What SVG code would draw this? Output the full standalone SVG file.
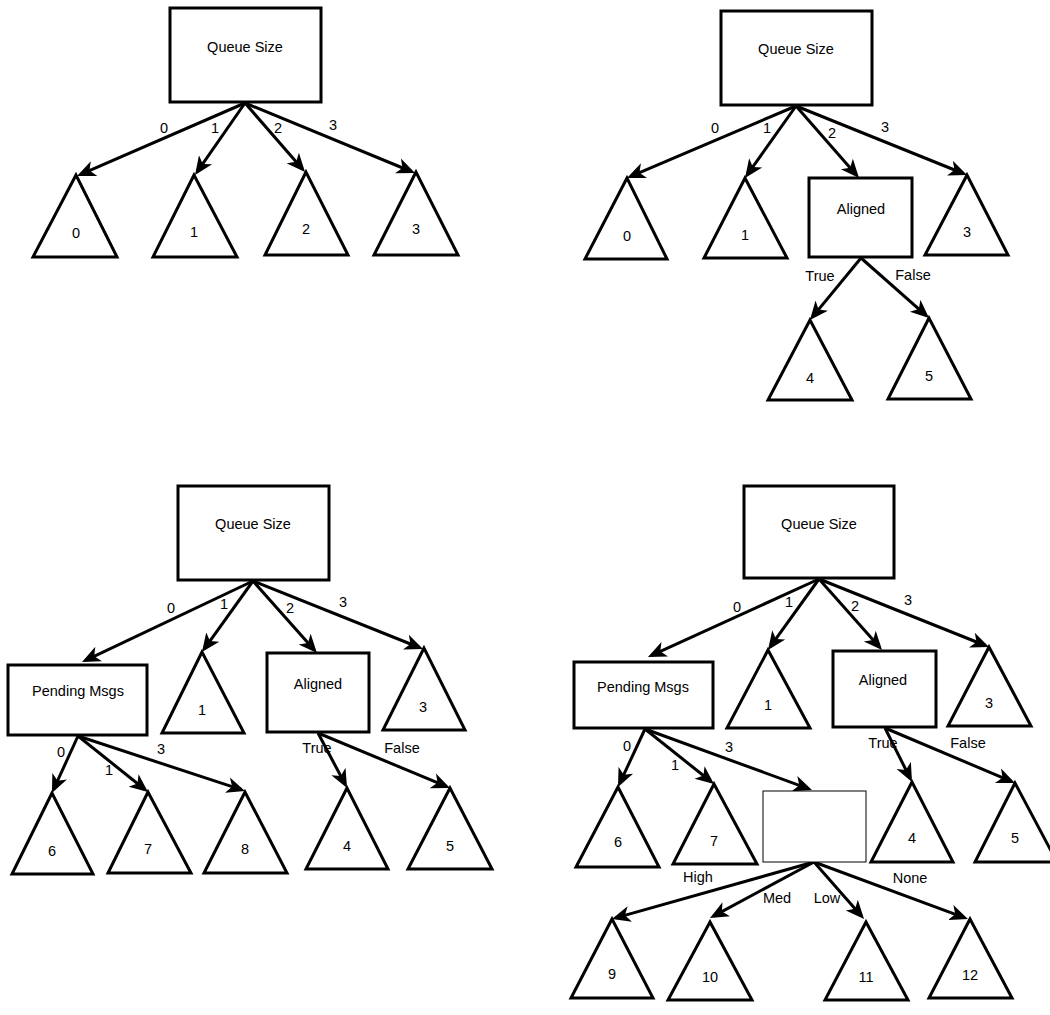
<svg xmlns="http://www.w3.org/2000/svg" width="1050" height="1015" viewBox="0 0 1050 1015">
<style>
.box{fill:#fff;stroke:#000;stroke-width:3}
.thin{fill:#fff;stroke:#000;stroke-width:1}
.tri{fill:#fff;stroke:#000;stroke-width:3;stroke-linejoin:miter}
.e{fill:none;stroke:#000;stroke-width:3;marker-end:url(#ah)}
text{font-family:"Liberation Sans",Arial,sans-serif;font-size:14.5px;fill:#000;text-anchor:middle}
</style>
<defs>
<marker id="ah" markerUnits="userSpaceOnUse" markerWidth="19" markerHeight="18" viewBox="0 0 19 18" refX="14.5" refY="9" orient="auto">
<path d="M0,1 L18.5,9 L0,17 L5,9 Z" fill="#000"/>
</marker>
</defs>
<rect width="1050" height="1015" fill="#fff"/>
<g id="connectors">
<path class="e" d="M245,103 L80.7,174.4"/>
<path class="e" d="M245,103 L197.3,171.7"/>
<path class="e" d="M245,103 L302.4,169"/>
<path class="e" d="M245,103 L411.3,171.5"/>
<path class="e" d="M796,106 L630.7,176.4"/>
<path class="e" d="M796,106 L747.3,174.7"/>
<path class="e" d="M796,106 L856.4,175"/>
<path class="e" d="M796,106 L963.3,173.5"/>
<path class="e" d="M861,258 L812.5,316.9"/>
<path class="e" d="M861,258 L926,315.3"/>
<path class="e" d="M253,581 L85.6,660.3"/>
<path class="e" d="M253,581 L204.3,648.8"/>
<path class="e" d="M253,581 L314.3,650"/>
<path class="e" d="M253,581 L419.3,647.5"/>
<path class="e" d="M78,736 L53.6,789.4"/>
<path class="e" d="M78,736 L144.9,789.5"/>
<path class="e" d="M78,736 L241.2,789.7"/>
<path class="e" d="M318,733 L345.2,784.4"/>
<path class="e" d="M318,733 L446.3,786.4"/>
<path class="e" d="M819,579 L651.6,655.3"/>
<path class="e" d="M819,579 L770.3,646.7"/>
<path class="e" d="M819,579 L879.4,647"/>
<path class="e" d="M819,579 L985.3,645.5"/>
<path class="e" d="M645,729 L619.7,783.4"/>
<path class="e" d="M645,729 L710.9,781.5"/>
<path class="e" d="M645,729 L808.2,788.6"/>
<path class="e" d="M885,728 L910.2,778.4"/>
<path class="e" d="M885,728 L1011.3,781.4"/>
<path class="e" d="M814,862 L615.8,917.9"/>
<path class="e" d="M814,862 L713.5,916.1"/>
<path class="e" d="M814,862 L861.4,916"/>
<path class="e" d="M814,862 L964.2,917.6"/>
</g>
<g id="edge-labels">
<text x="164" y="133">0</text><text x="215" y="133">1</text><text x="278" y="133">2</text><text x="333" y="130">3</text>
<text x="715" y="133">0</text><text x="767" y="133">1</text><text x="832" y="138">2</text><text x="885" y="132">3</text>
<text x="820" y="281">True</text><text x="913" y="280">False</text>
<text x="171" y="613">0</text><text x="224" y="609">1</text><text x="290" y="613">2</text><text x="343" y="607">3</text>
<text x="61" y="757">0</text><text x="109" y="775">1</text><text x="161" y="754">3</text>
<text x="317" y="753">True</text><text x="402" y="753">False</text>
<text x="737" y="612">0</text><text x="789" y="607">1</text><text x="855" y="611">2</text><text x="908" y="605">3</text>
<text x="627" y="751">0</text><text x="675" y="770">1</text><text x="729" y="752">3</text>
<text x="883" y="748">True</text><text x="968" y="748">False</text>
<text x="698" y="882">High</text><text x="777" y="903">Med</text><text x="827" y="903">Low</text><text x="910" y="883">None</text>
</g>
<!-- Tree 1 -->
<g id="t1-queue"><rect class="box" x="170" y="8" width="151" height="94"/><text x="245" y="52">Queue Size</text></g>
<g id="t1-leaf0"><polygon class="tri" points="76,175 33,257 117,257"/><text x="76" y="238">0</text></g>
<g id="t1-leaf1"><polygon class="tri" points="194,175 153,257 237,257"/><text x="194" y="237">1</text></g>
<g id="t1-leaf2"><polygon class="tri" points="306,172 265,255 348,255"/><text x="306" y="234">2</text></g>
<g id="t1-leaf3"><polygon class="tri" points="416,172 374,255 458,255"/><text x="416" y="234">3</text></g>
<!-- Tree 2 -->
<g id="t2-queue"><rect class="box" x="721" y="11" width="151" height="94"/><text x="796" y="54">Queue Size</text></g>
<g id="t2-leaf0"><polygon class="tri" points="627,178 585,259 667,259"/><text x="627" y="241">0</text></g>
<g id="t2-leaf1"><polygon class="tri" points="745,178 704,258 787,258"/><text x="745" y="240">1</text></g>
<g id="t2-aligned"><rect class="box" x="809" y="178" width="103" height="79"/><text x="861" y="214">Aligned</text></g>
<g id="t2-leaf3"><polygon class="tri" points="967,175 925,255 1008,255"/><text x="967" y="237">3</text></g>
<g id="t2-leaf4"><polygon class="tri" points="810,320 768,400 852,400"/><text x="810" y="383">4</text></g>
<g id="t2-leaf5"><polygon class="tri" points="929,318 888,399 971,399"/><text x="929" y="381">5</text></g>
<!-- Tree 3 -->
<g id="t3-queue"><rect class="box" x="178" y="486" width="151" height="94"/><text x="253" y="529">Queue Size</text></g>
<g id="t3-pending"><rect class="box" x="8" y="665" width="139" height="70"/><text x="78" y="696">Pending Msgs</text></g>
<g id="t3-leaf1"><polygon class="tri" points="202,652 162,733 244,733"/><text x="202" y="715">1</text></g>
<g id="t3-aligned"><rect class="box" x="267" y="653" width="102" height="79"/><text x="318" y="689">Aligned</text></g>
<g id="t3-leaf3"><polygon class="tri" points="424,648 383,730 465,730"/><text x="423" y="712">3</text></g>
<g id="t3-leaf6"><polygon class="tri" points="52,793 12,874 93,874"/><text x="52" y="856">6</text></g>
<g id="t3-leaf7"><polygon class="tri" points="148,792 108,873 191,873"/><text x="148" y="854">7</text></g>
<g id="t3-leaf8"><polygon class="tri" points="245,792 204,873 287,873"/><text x="245" y="854">8</text></g>
<g id="t3-leaf4"><polygon class="tri" points="347,788 306,869 388,869"/><text x="347" y="851">4</text></g>
<g id="t3-leaf5"><polygon class="tri" points="450,788 408,869 492,869"/><text x="450" y="851">5</text></g>
<!-- Tree 4 -->
<g id="t4-queue"><rect class="box" x="744" y="486" width="150" height="92"/><text x="819" y="529">Queue Size</text></g>
<g id="t4-pending"><rect class="box" x="574" y="662" width="139" height="66"/><text x="643" y="692">Pending Msgs</text></g>
<g id="t4-leaf1"><polygon class="tri" points="768,650 727,728 810,728"/><text x="768" y="710">1</text></g>
<g id="t4-aligned"><rect class="box" x="833" y="651" width="103" height="76"/><text x="883" y="685">Aligned</text></g>
<g id="t4-leaf3"><polygon class="tri" points="989,647 948,726 1031,726"/><text x="989" y="708">3</text></g>
<g id="t4-leaf6"><polygon class="tri" points="618,787 576,867 659,867"/><text x="618" y="847">6</text></g>
<g id="t4-leaf7"><polygon class="tri" points="714,784 673,864 757,864"/><text x="714" y="846">7</text></g>
<g id="t4-empty"><rect class="thin" x="763" y="791" width="103" height="71"/></g>
<g id="t4-leaf4"><polygon class="tri" points="912,782 871,862 953,862"/><text x="912" y="843">4</text></g>
<g id="t4-leaf5"><polygon class="tri" points="1015,783 975,862 1057,862"/><text x="1015" y="843">5</text></g>
<g id="t4-leaf9"><polygon class="tri" points="612,919 571,998 653,998"/><text x="612" y="979">9</text></g>
<g id="t4-leaf10"><polygon class="tri" points="710,922 668,1000 752,1000"/><text x="710" y="982">10</text></g>
<g id="t4-leaf11"><polygon class="tri" points="866,922 825,1000 908,1000"/><text x="866" y="982">11</text></g>
<g id="t4-leaf12"><polygon class="tri" points="970,919 929,998 1012,998"/><text x="970" y="980">12</text></g>
</svg>
